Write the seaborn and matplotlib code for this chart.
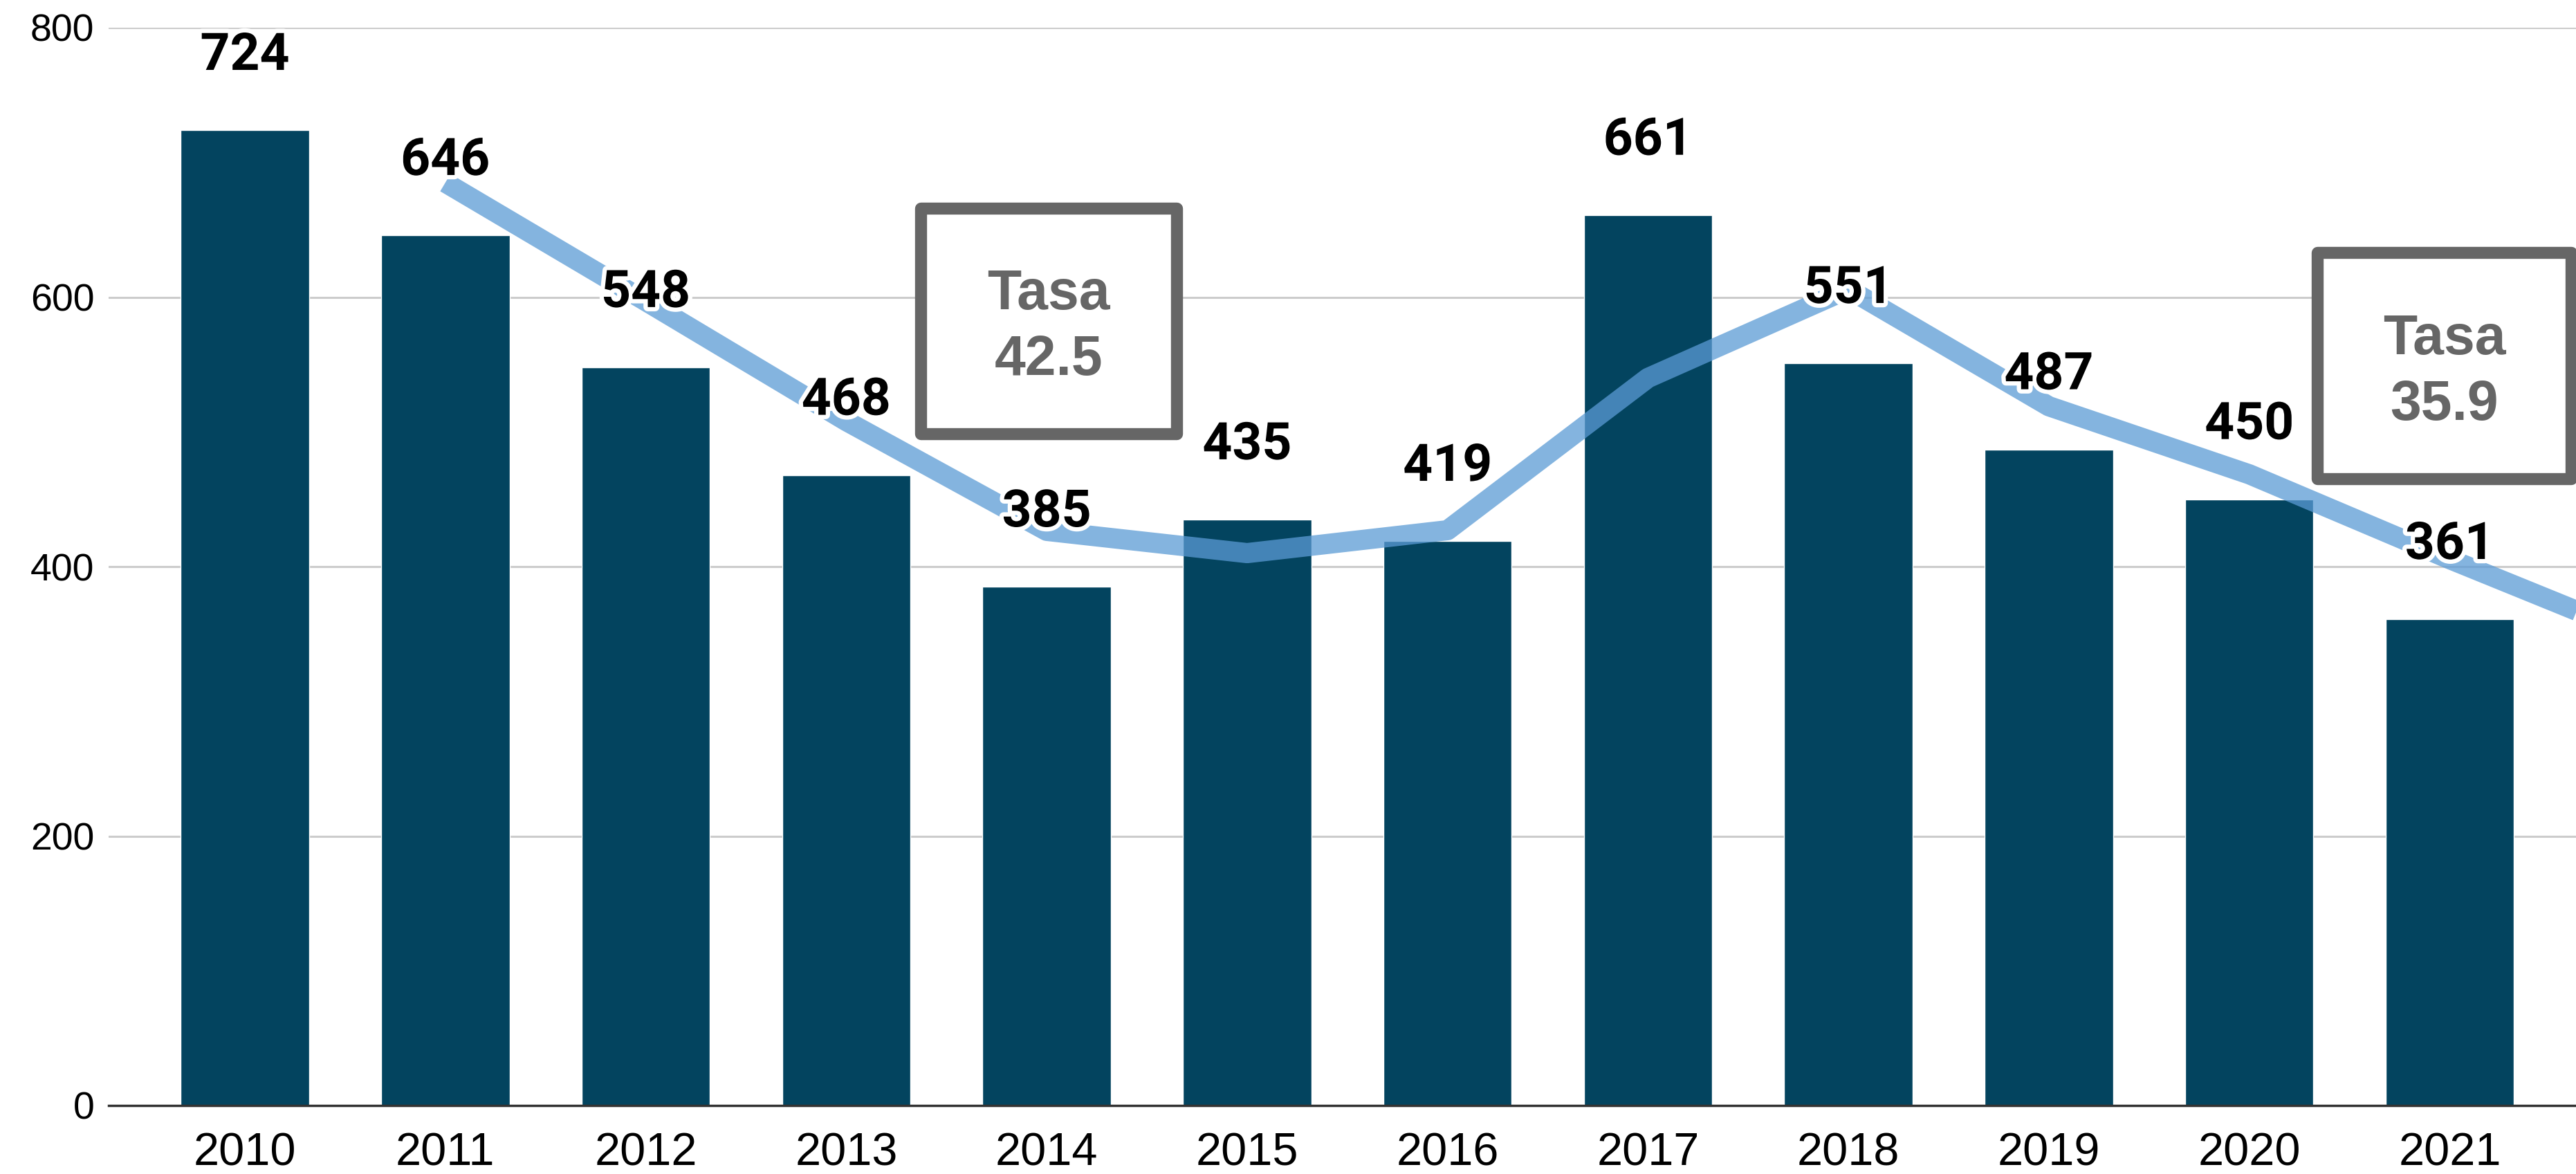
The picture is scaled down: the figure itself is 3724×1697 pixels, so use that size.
import numpy as np
import pandas as pd
import matplotlib
matplotlib.use("Agg")
import matplotlib.pyplot as plt
import matplotlib.patheffects as pe
from matplotlib.patches import Rectangle
import seaborn as sns

# data
years = ["2010", "2011", "2012", "2013", "2014", "2015", "2016",
         "2017", "2018", "2019", "2020", "2021"]
casos = [724, 646, 548, 468, 385, 435, 419, 661, 551, 487, 450, 361]
# light blue trend line (2010 has no value, 2022 runs off the right edge)
trend = [np.nan, 685, 597, 508, 426.5, 410, 427, 540, 606, 519, 468.5, 405.5, 345]
tasa_labels = ["Tasa\n42.5", "Tasa\n35.9"]

BAR = "#03445F"
LINE = "#5B9BD5"
GREY = "#666666"

sns.set_theme(style="white")
plt.rcParams['font.family'] = ['Liberation Sans', 'DejaVu Sans']

fig = plt.figure(figsize=(37.24, 16.97), dpi=100)
ax = fig.add_axes([157 / 3724, 1 - 1598 / 1697, 1 - 157 / 3724, (1598 - 40) / 1697])

df = pd.DataFrame({"year": years, "casos": casos})
sns.barplot(data=df, x="year", y="casos", color=BAR, saturation=1,
            width=0.64, ax=ax, zorder=2)

pos = np.arange(len(trend))
sns.lineplot(x=pos, y=trend, ax=ax, color=LINE, alpha=0.75, linewidth=21,
             zorder=3, solid_capstyle="butt")

# value labels above bars
for i, v in enumerate(casos):
    ax.annotate(str(v), (i, v), xytext=(0, 77), textcoords="offset points",
                ha="center", va="center", fontsize=54, fontweight="bold",
                family=['Roboto', 'DejaVu Sans'], color="black", zorder=5,
                path_effects=[pe.withStroke(linewidth=9, foreground="white")])

# "Tasa" boxes
boxes = [(3.37, 498.6, 4.65, 666), (10.34, 465, 11.605, 633)]
for (x0, y0, x1, y1), txt in zip(boxes, tasa_labels):
    ax.add_patch(Rectangle((x0, y0), x1 - x0, y1 - y0, fill=True, facecolor="white",
                           edgecolor=GREY, lw=12.5, joinstyle="round", zorder=4,
                           clip_on=False))
    ax.annotate(txt, ((x0 + x1) / 2, (y0 + y1) / 2), xytext=(0, -7),
                textcoords="offset points", ha="center", va="center",
                fontsize=58, fontweight="bold", color=GREY, linespacing=1.32, zorder=5)

ax.set_xlim(-0.68, 11.63)
ax.set_ylim(0, 800)
ax.set_yticks([0, 200, 400, 600, 800])
ax.yaxis.grid(True, color="#CCCCCC", lw=2.2)
ax.set_axisbelow(True)
for s in ["top", "right", "left"]:
    ax.spines[s].set_visible(False)
ax.spines["bottom"].set_color("#333333")
ax.spines["bottom"].set_linewidth(2.5)
ax.spines["bottom"].set_zorder(6)
ax.tick_params(axis="x", length=0, pad=28, labelsize=48, colors="black")
ax.tick_params(axis="y", length=0, pad=15, labelsize=40, colors="black")
ax.set_xlabel("")
ax.set_ylabel("")

fig.savefig("out.png", dpi=100)
